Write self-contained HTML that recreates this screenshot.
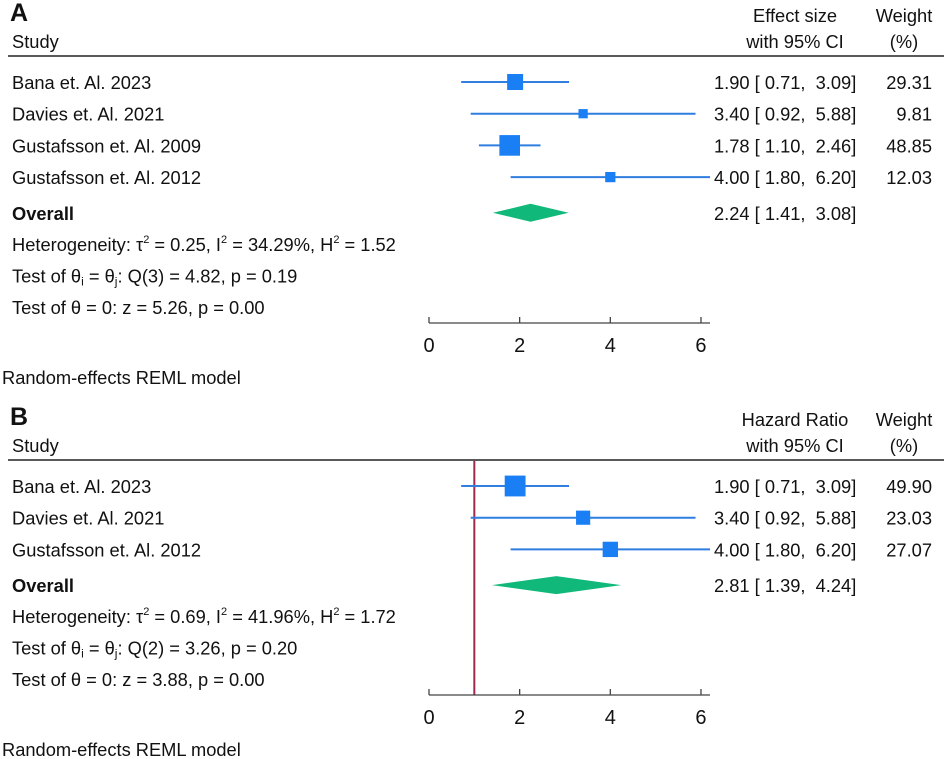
<!DOCTYPE html>
<html><head><meta charset="utf-8"><style>
body{margin:0;background:#fff}
svg{display:block;font-family:"Liberation Sans",Arial,sans-serif}
text{fill:#111}
</style></head><body>
<svg id="c" width="944" height="759" viewBox="0 0 944 759"></svg>
<script>
const studiesA=["Bana et. Al. 2023","Davies et. Al. 2021","Gustafsson et. Al. 2009","Gustafsson et. Al. 2012"];
const estA=[1.90,3.40,1.78,4.00];
const loA=[0.71,0.92,1.10,1.80];
const hiA=[3.09,5.88,2.46,6.20];
const wA=[29.31,9.81,48.85,12.03];
const overallA=[2.24,1.41,3.08];
const studiesB=["Bana et. Al. 2023","Davies et. Al. 2021","Gustafsson et. Al. 2012"];
const estB=[1.90,3.40,4.00];
const loB=[0.71,0.92,1.80];
const hiB=[3.09,5.88,6.20];
const wB=[49.90,23.03,27.07];
const overallB=[2.81,1.39,4.24];
const ticks=[0,2,4,6];
const NS="http://www.w3.org/2000/svg";
const svg=document.getElementById('c');
const FS=18.3;
const X=v=>429+v*45.33;
function el(t,a,p){const e=document.createElementNS(NS,t);for(const k in a)e.setAttribute(k,a[k]);(p||svg).appendChild(e);return e;}
function tx(s,x,y,o){o=o||{};const e=el('text',{x:x,y:y,'font-size':o.fs||FS,'text-anchor':o.a||'start','font-weight':o.b?'bold':'normal'});e.textContent=s;return e;}
const f=v=>v.toFixed(2);
const p=v=>(v<10?' ':'')+f(v);
function panel(o){
  const g=el('g',{});
  
  
  let t=tx(o.letter,10,o.y0+21,{fs:25,b:true});
  
  t=tx('Study',12,o.y0+48);
  t=tx(o.h1,795,o.y0+22,{a:'middle'});
  tx('with 95% CI',795,o.y0+48,{a:'middle'});
  t=tx('Weight',904,o.y0+22,{a:'middle'});
  tx('(%)',904,o.y0+48,{a:'middle'});
  let ln=el('line',{x1:8,x2:944,y1:o.y0+56,y2:o.y0+56,stroke:'#222','stroke-width':1.5});
  
  if(o.ref){ln=el('line',{x1:X(1),x2:X(1),y1:o.y0+57,y2:o.axisY,stroke:'#a0284a','stroke-width':2});
    }
  o.st.forEach((s,i)=>{
    const y=o.y0+82+i*31.7;
    let r=tx(s,12,y+7);
    let l=el('line',{x1:X(o.lo[i]),x2:X(o.hi[i]),y1:y,y2:y,stroke:'#2f7ee0','stroke-width':2});
    
    const sz=2.95*Math.sqrt(o.w[i]);
    let q=el('rect',{x:X(o.est[i])-sz/2,y:y-sz/2,width:sz,height:sz,fill:'#1a7ff5'});
    
    r=tx(f(o.est[i])+' ['+p(o.lo[i])+', '+p(o.hi[i])+']',714,y+7);r.style.whiteSpace='pre';
    
    r=tx(f(o.w[i]),932,y+7,{a:'end'});
  });
  const oy=o.y0+82+o.st.length*31.7+4;
  let r=tx('Overall',12,oy+7,{b:true});
  const ov=o.ov;
  let d=el('polygon',{points:`${X(ov[1])},${oy} ${X(ov[0])},${oy-9} ${X(ov[2])},${oy} ${X(ov[0])},${oy+9}`,fill:'#10b97a'});
  
  r=tx(f(ov[0])+' ['+p(ov[1])+', '+p(ov[2])+']',714,oy+7);r.style.whiteSpace='pre';
  
  o.notes.forEach((n,i)=>{const e=el('text',{x:12,y:oy+38+i*31.5,'font-size':FS});e.innerHTML=n;
    });
  const ay=o.axisY;
  ln=el('line',{x1:X(0),x2:710,y1:ay,y2:ay,stroke:'#444','stroke-width':1.3});
  
  ticks.forEach(v=>{const tk=el('line',{x1:X(v),x2:X(v),y1:ay,y2:ay-6,stroke:'#444','stroke-width':1.3});
    
    const tl=tx(String(v),X(v),ay+29,{a:'middle',fs:20});});
  r=tx('Random-effects REML model',2,ay+61);
}
panel({letter:'A',y0:0,h1:'Effect size',st:studiesA,est:estA,lo:loA,hi:hiA,w:wA,ov:overallA,axisY:323,ref:false,
 notes:['Heterogeneity: τ<tspan dy="-8" font-size="11">2</tspan><tspan dy="8"> = 0.25, I</tspan><tspan dy="-8" font-size="11">2</tspan><tspan dy="8"> = 34.29%, H</tspan><tspan dy="-8" font-size="11">2</tspan><tspan dy="8"> = 1.52</tspan>',
 'Test of θ<tspan font-size="12" dy="3">i</tspan><tspan dy="-3"> = θ</tspan><tspan font-size="12" dy="3">j</tspan><tspan dy="-3">: Q(3) = 4.82, p = 0.19</tspan>',
 'Test of θ = 0: z = 5.26, p = 0.00']});
panel({letter:'B',y0:404,h1:'Hazard Ratio',st:studiesB,est:estB,lo:loB,hi:hiB,w:wB,ov:overallB,axisY:695,ref:true,
 notes:['Heterogeneity: τ<tspan dy="-8" font-size="11">2</tspan><tspan dy="8"> = 0.69, I</tspan><tspan dy="-8" font-size="11">2</tspan><tspan dy="8"> = 41.96%, H</tspan><tspan dy="-8" font-size="11">2</tspan><tspan dy="8"> = 1.72</tspan>',
 'Test of θ<tspan font-size="12" dy="3">i</tspan><tspan dy="-3"> = θ</tspan><tspan font-size="12" dy="3">j</tspan><tspan dy="-3">: Q(2) = 3.26, p = 0.20</tspan>',
 'Test of θ = 0: z = 3.88, p = 0.00']});
</script>
</body></html>
